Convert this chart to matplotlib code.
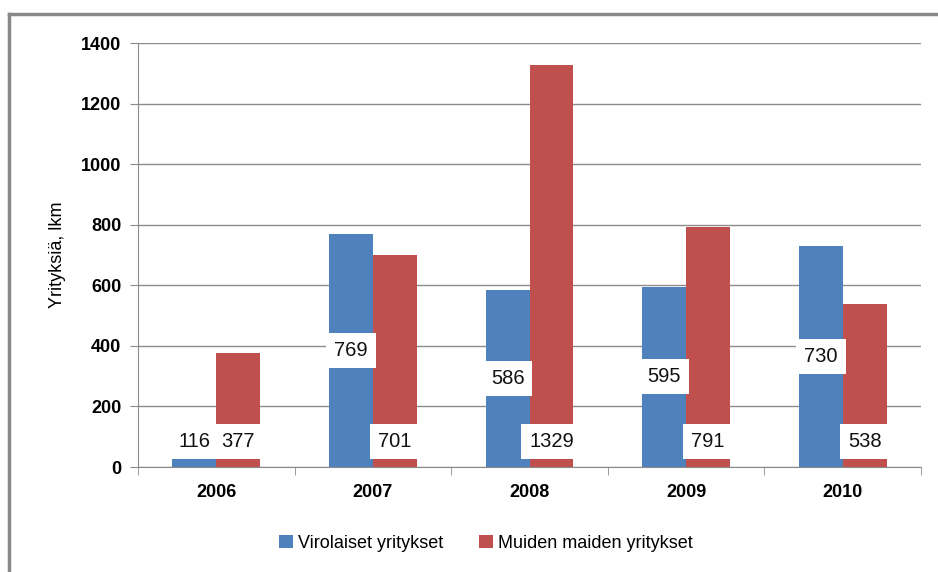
import matplotlib

matplotlib.use("Agg")
import matplotlib.pyplot as plt
import numpy as np
from matplotlib.lines import Line2D

matplotlib.rcParams["font.family"] = ["Liberation Sans", "DejaVu Sans"]

YEARS = ["2006", "2007", "2008", "2009", "2010"]
VIROLAISET = [116, 769, 586, 595, 730]
MUIDEN = [377, 701, 1329, 791, 538]
SERIES_NAMES = ["Virolaiset yritykset", "Muiden maiden yritykset"]
Y_TICKS = [0, 200, 400, 600, 800, 1000, 1200, 1400]

BLUE = "#4F81BD"
RED = "#C0504D"
GRID = "#8C8C8C"

W, H = 938, 572
fig = plt.figure(figsize=(W / 100, H / 100), dpi=100)
ax = fig.add_axes([138 / W, 1 - 467 / H, (921 - 138) / W, (467 - 43) / H])

x = np.arange(len(YEARS))
bw = 0.28

b1 = ax.bar(x - bw / 2, VIROLAISET, bw, color=BLUE, zorder=2, label=SERIES_NAMES[0])
b2 = ax.bar(x + bw / 2, MUIDEN, bw, color=RED, zorder=2, label=SERIES_NAMES[1])

box = dict(boxstyle="square,pad=0.4", fc="white", ec="none")
base_y = 84
for xi, v in zip(x, VIROLAISET):
    ax.text(xi - bw / 2, max(v / 2, base_y), str(v), ha="center", va="center",
            fontsize=14.5, color="#111111", bbox=box, zorder=4)
for xi, v in zip(x, MUIDEN):
    ax.text(xi + bw / 2, base_y, str(v), ha="center", va="center",
            fontsize=14.5, color="#111111", bbox=box, zorder=4)

ax.set_xlim(-0.5, len(YEARS) - 0.5)
ax.set_ylim(0, 1400)
ax.set_yticks(Y_TICKS)
ax.set_yticklabels([str(t) for t in Y_TICKS], fontsize=13, fontweight="bold")
ax.set_xticks(x)
ax.set_xticklabels(YEARS, fontsize=13, fontweight="bold")
ax.set_xticks(np.arange(len(YEARS) + 1) - 0.5, minor=True)
ax.tick_params(axis="x", which="major", length=0, pad=12)
ax.tick_params(axis="x", which="minor", length=6, color=GRID, direction="out")
ax.tick_params(axis="y", length=6, color=GRID, pad=6)

ax.grid(axis="y", color=GRID, linewidth=1, zorder=0)
ax.set_axisbelow(True)
for s in ("top", "right"):
    ax.spines[s].set_visible(False)
for s in ("left", "bottom"):
    ax.spines[s].set_color(GRID)

ax.set_ylabel("Yrityksiä, lkm", fontsize=13, labelpad=11)

fig.legend(handles=[b1, b2], labels=SERIES_NAMES, loc="center",
           bbox_to_anchor=(486 / W, 1 - 543 / H), ncol=2, frameon=False,
           fontsize=13, handlelength=0.75, handleheight=0.75,
           handletextpad=0.3, columnspacing=2.0)

# outer chart frame (top and left edges visible)
frame_kw = dict(color="#888888", linewidth=2.5, transform=fig.transFigure)
fig.add_artist(Line2D([9 / W, 1], [1 - 14 / H, 1 - 14 / H], **frame_kw))
fig.add_artist(Line2D([9 / W, 9 / W], [0, 1 - 14 / H], **frame_kw))

fig.savefig("out.png", dpi=100)
